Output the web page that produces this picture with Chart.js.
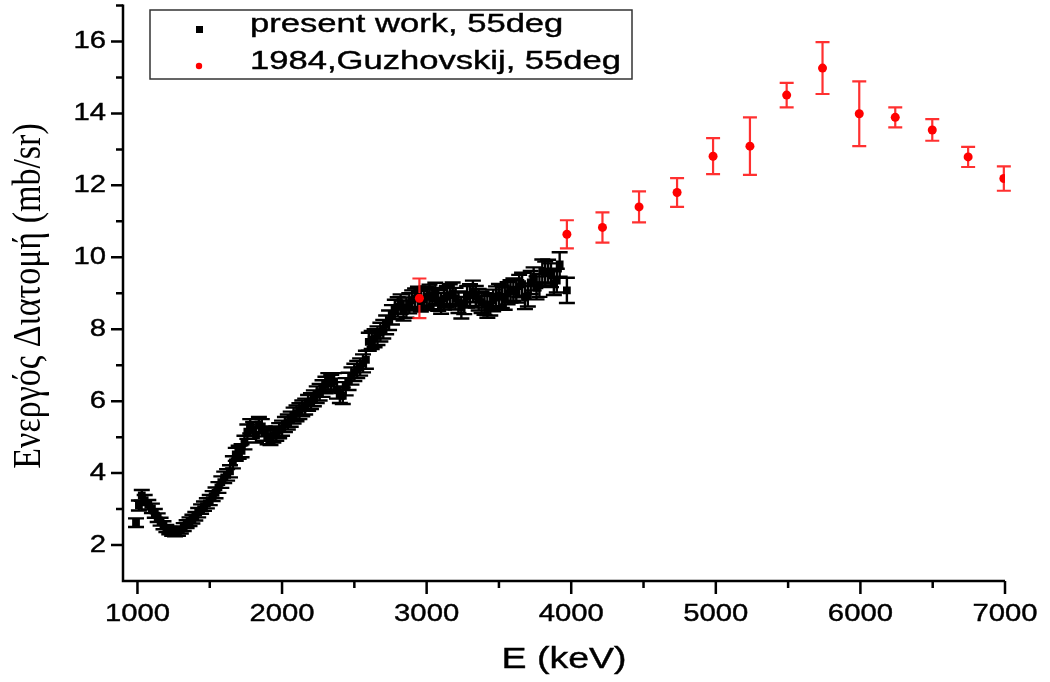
<!DOCTYPE html>
<html>
<head>
<meta charset="utf-8">
<script src="https://cdn.jsdelivr.net/npm/chart.js@4.4.1/dist/chart.umd.min.js"></script>
<style>
  html, body { margin: 0; padding: 0; background: #fff; }
  #wrap { width: 1050px; height: 682px; position: relative; }
</style>
</head>
<body>
<div id="wrap"><canvas id="c" width="1050" height="682"></canvas></div>
<script>
// Present work, 55 deg: energy (keV), cross section (mb/sr), uncertainty
const energyPW = [
  990, 1010, 1030, 1050, 1075,
  1100, 1120, 1140, 1160, 1180,
  1200, 1220, 1240, 1260, 1280,
  1300, 1320, 1340, 1360, 1380,
  1400, 1420, 1440, 1460, 1480,
  1500, 1520, 1540, 1560, 1580,
  1600, 1620, 1640, 1660, 1680,
  1700, 1720, 1740, 1760, 1780,
  1800, 1820, 1840, 1860, 1880,
  1900, 1920, 1940, 1960, 1980,
  2000, 2020, 2040, 2060, 2080,
  2100, 2120, 2140, 2160, 2180,
  2200, 2220, 2240, 2260, 2280,
  2300, 2320, 2340, 2360, 2380,
  2400, 2420, 2440, 2460, 2480,
  2500, 2520, 2540, 2560, 2580,
  2600, 2620, 2640, 2660, 2680,
  2700, 2720, 2740, 2760, 2780,
  2800, 2820, 2840, 2860, 2880,
  2900, 2920, 2940, 2960, 2980,
  3000, 3020, 3040, 3060, 3080,
  3100, 3120, 3140, 3160, 3180,
  3200, 3220, 3240, 3260, 3280,
  3300, 3320, 3340, 3360, 3380,
  3400, 3420, 3440, 3460, 3480,
  3500, 3520, 3540, 3560, 3580,
  3600, 3620, 3640, 3660, 3680,
  3700, 3720, 3740, 3760, 3780,
  3800, 3820, 3840, 3860, 3880,
  3900, 3920, 3970
];
const sigmaPW = [
  2.62, 3.10, 3.38, 3.25, 3.12,
  3.02, 2.88, 2.76, 2.65, 2.55,
  2.46, 2.40, 2.36, 2.34, 2.36,
  2.42, 2.50, 2.58, 2.65, 2.72,
  2.80, 2.90, 3.00, 3.08, 3.16,
  3.25, 3.36, 3.45, 3.60, 3.75,
  3.88, 3.95, 4.05, 4.30, 4.52,
  4.58, 4.62, 4.85, 5.15, 5.30,
  5.22, 5.05, 5.35, 5.30, 5.10,
  5.00, 4.98, 5.05, 5.10, 5.18,
  5.25, 5.35, 5.42, 5.50, 5.60,
  5.66, 5.72, 5.80, 5.85, 5.95,
  6.00, 6.08, 6.18, 6.25, 6.35,
  6.45, 6.55, 6.50, 6.55, 6.30,
  6.18, 6.15, 6.40, 6.55, 6.70,
  6.80, 6.88, 6.95, 7.05, 7.15,
  7.65, 7.70, 7.75, 7.82, 7.92,
  8.00, 8.12, 8.25, 8.40, 8.55,
  8.62, 8.70, 8.52, 8.60, 8.72,
  8.80, 8.85, 8.90, 8.78, 8.82,
  8.90, 8.95, 8.85, 9.00, 8.80,
  8.72, 8.85, 8.90, 8.95, 9.00,
  8.85, 8.75, 8.60, 8.72, 8.90,
  8.95, 9.05, 8.90, 8.82, 8.75,
  8.70, 8.62, 8.68, 8.80, 8.88,
  8.95, 8.90, 8.85, 9.00, 9.05,
  9.10, 9.05, 9.20, 9.25, 8.88,
  8.95, 9.30, 9.40, 9.15, 9.22,
  9.62, 9.55, 9.60, 9.50, 9.28,
  9.35, 9.80, 9.08
];
const errPW = [
  0.12, 0.14, 0.15, 0.14, 0.13,
  0.13, 0.12, 0.12, 0.11, 0.11,
  0.10, 0.10, 0.10, 0.10, 0.10,
  0.10, 0.11, 0.11, 0.12, 0.12,
  0.12, 0.13, 0.13, 0.13, 0.14,
  0.14, 0.14, 0.15, 0.15, 0.16,
  0.16, 0.16, 0.17, 0.17, 0.18,
  0.18, 0.18, 0.19, 0.20, 0.20,
  0.20, 0.20, 0.21, 0.20, 0.20,
  0.20, 0.20, 0.20, 0.20, 0.21,
  0.21, 0.21, 0.21, 0.21, 0.22,
  0.22, 0.22, 0.22, 0.22, 0.22,
  0.22, 0.22, 0.23, 0.23, 0.23,
  0.23, 0.23, 0.23, 0.23, 0.23,
  0.23, 0.23, 0.24, 0.24, 0.24,
  0.24, 0.24, 0.24, 0.25, 0.25,
  0.25, 0.25, 0.25, 0.26, 0.26,
  0.26, 0.26, 0.27, 0.27, 0.27,
  0.27, 0.27, 0.28, 0.28, 0.28,
  0.28, 0.28, 0.28, 0.29, 0.29,
  0.29, 0.29, 0.29, 0.29, 0.29,
  0.29, 0.30, 0.30, 0.30, 0.30,
  0.30, 0.30, 0.30, 0.30, 0.30,
  0.30, 0.30, 0.30, 0.30, 0.30,
  0.30, 0.30, 0.30, 0.30, 0.31,
  0.31, 0.31, 0.31, 0.31, 0.31,
  0.31, 0.31, 0.31, 0.32, 0.32,
  0.32, 0.32, 0.32, 0.32, 0.32,
  0.32, 0.33, 0.33, 0.33, 0.33,
  0.33, 0.34, 0.35
];

// Guzhovskij (1984), 55 deg
const energyGu = [2950, 3970, 4216, 4469, 4732, 4981, 5236, 5490, 5738, 5992, 6241, 6497, 6745, 6992];
const sigmaGu  = [8.86, 10.64, 10.83, 11.40, 11.80, 12.81, 13.09, 14.51, 15.26, 13.99, 13.89, 13.54, 12.79, 12.19];
const errGu    = [0.55, 0.39, 0.42, 0.43, 0.40, 0.50, 0.80, 0.34, 0.72, 0.90, 0.28, 0.30, 0.28, 0.34];

// Axis ticks
const xTicks = [1000, 2000, 3000, 4000, 5000, 6000, 7000];
const yTicks = [2, 4, 6, 8, 10, 12, 14, 16];
const xRange = [900, 7000];
const yRange = [1, 17];

const seriesLabels = ['present work, 55deg', '1984,Guzhovskij, 55deg'];
const xTitle = 'E (keV)';
const yTitle = 'Ενεργός Διατομή (mb/sr)';

const toPoints = (xs, ys) => xs.map((x, i) => ({ x: x, y: ys[i] }));

// Text drawn with a horizontal stretch factor
function stretchText(ctx, str, x, y, align, sx, font) {
  ctx.save();
  ctx.font = font;
  ctx.fillStyle = '#000';
  ctx.strokeStyle = '#000';
  ctx.lineWidth = 0.4;
  ctx.textAlign = align;
  ctx.textBaseline = 'middle';
  ctx.translate(x, y);
  ctx.scale(sx, 1);
  ctx.fillText(str, 0, 0);
  ctx.strokeText(str, 0, 0);
  ctx.restore();
}

// Vertical error bars with caps, under the markers
const errorBars = {
  id: 'errorBars',
  beforeDatasetsDraw(chart) {
    const ctx = chart.ctx;
    const xs = chart.scales.x, ys = chart.scales.y;
    chart.data.datasets.forEach(ds => {
      const err = ds.errors;
      ctx.save();
      ctx.strokeStyle = ds.barColor;
      ctx.lineWidth = ds.barWidth;
      ds.data.forEach((p, i) => {
        const px = xs.getPixelForValue(p.x);
        const top = ys.getPixelForValue(p.y + err[i]);
        const bot = ys.getPixelForValue(p.y - err[i]);
        const cap = ds.capHalf;
        ctx.beginPath();
        ctx.moveTo(px, top); ctx.lineTo(px, bot);
        ctx.moveTo(px - cap, top); ctx.lineTo(px + cap, top);
        ctx.moveTo(px - cap, bot); ctx.lineTo(px + cap, bot);
        ctx.stroke();
      });
      ctx.restore();
    });
  }
};

// Axes, ticks, labels, titles and legend box
const frame = {
  id: 'frame',
  afterDraw(chart) {
    const ctx = chart.ctx;
    const a = chart.chartArea;
    const xs = chart.scales.x, ys = chart.scales.y;
    ctx.save();
    ctx.strokeStyle = '#000';
    ctx.lineWidth = 2.5;
    ctx.beginPath();
    ctx.moveTo(a.left, a.top - 1);
    ctx.lineTo(a.left, a.bottom);
    ctx.lineTo(a.right, a.bottom);
    ctx.stroke();

    ctx.beginPath();
    xTicks.forEach((t, i) => {
      const px = xs.getPixelForValue(t);
      ctx.moveTo(px, a.bottom); ctx.lineTo(px, a.bottom + 13);
      if (i < xTicks.length - 1) {
        const mx = xs.getPixelForValue((t + xTicks[i + 1]) / 2);
        ctx.moveTo(mx, a.bottom); ctx.lineTo(mx, a.bottom + 7);
      }
    });
    yTicks.forEach(t => {
      const py = ys.getPixelForValue(t);
      ctx.moveTo(a.left, py); ctx.lineTo(a.left - 12, py);
    });
    for (let v = yRange[0] + 2; v <= yRange[1]; v += 2) {
      const py = ys.getPixelForValue(v);
      ctx.moveTo(a.left, py); ctx.lineTo(a.left - 7, py);
    }
    ctx.stroke();
    ctx.restore();

    const tickFont = '24px "Liberation Sans", Arial, sans-serif';
    xTicks.forEach(t => {
      stretchText(ctx, String(t), xs.getPixelForValue(t), a.bottom + 33, 'center', 1.22, tickFont);
    });
    yTicks.forEach(t => {
      stretchText(ctx, String(t), a.left - 17, ys.getPixelForValue(t), 'right', 1.22, tickFont);
    });

    stretchText(ctx, xTitle, (a.left + a.right) / 2, 660, 'center', 1.25, '30px "Liberation Sans", Arial, sans-serif');

    // y title, rotated
    ctx.save();
    ctx.font = '34px "Liberation Serif", "Times New Roman", serif';
    ctx.fillStyle = '#000';
    ctx.textAlign = 'center';
    ctx.textBaseline = 'middle';
    ctx.translate(30, 296);
    ctx.rotate(-Math.PI / 2);
    ctx.scale(1, 1.15);
    ctx.fillText(yTitle, 0, 0);
    ctx.restore();

    // legend
    ctx.save();
    ctx.strokeStyle = '#333';
    ctx.lineWidth = 1.5;
    ctx.strokeRect(150, 10, 482, 69);
    ctx.fillStyle = '#000';
    ctx.fillRect(196, 26, 7, 7);
    ctx.fillStyle = '#ff0000';
    ctx.beginPath();
    ctx.arc(199, 66, 3.2, 0, Math.PI * 2);
    ctx.fill();
    ctx.restore();
    const legFont = '26px "Liberation Sans", Arial, sans-serif';
    stretchText(ctx, chart.data.datasets[0].label, 250, 25, 'left', 1.33, legFont);
    stretchText(ctx, chart.data.datasets[1].label, 250, 62, 'left', 1.33, legFont);
  }
};

new Chart(document.getElementById('c'), {
  type: 'scatter',
  data: {
    datasets: [
      {
        label: seriesLabels[0],
        data: toPoints(energyPW, sigmaPW),
        errors: errPW,
        barColor: '#000',
        barWidth: 2.4,
        capHalf: 8,
        pointStyle: 'rect',
        pointRadius: 5.5,
        backgroundColor: '#000',
        borderColor: '#000',
        borderWidth: 0,
        order: 1
      },
      {
        label: seriesLabels[1],
        data: toPoints(energyGu, sigmaGu),
        errors: errGu,
        barColor: 'rgba(255,25,25,0.9)',
        barWidth: 2.2,
        capHalf: 7,
        pointStyle: 'circle',
        pointRadius: 4.5,
        backgroundColor: '#ff0000',
        borderColor: '#ff0000',
        borderWidth: 0,
        order: 0
      }
    ]
  },
  options: {
    responsive: true,
    maintainAspectRatio: false,
    devicePixelRatio: 1,
    animation: false,
    events: [],
    layout: { padding: { left: 123, right: 45, top: 5, bottom: 101 } },
    plugins: { legend: { display: false }, tooltip: { enabled: false } },
    scales: {
      x: { type: 'linear', min: xRange[0], max: xRange[1], display: false },
      y: { type: 'linear', min: yRange[0], max: yRange[1], display: false }
    }
  },
  plugins: [errorBars, frame]
});
</script>
</body>
</html>
